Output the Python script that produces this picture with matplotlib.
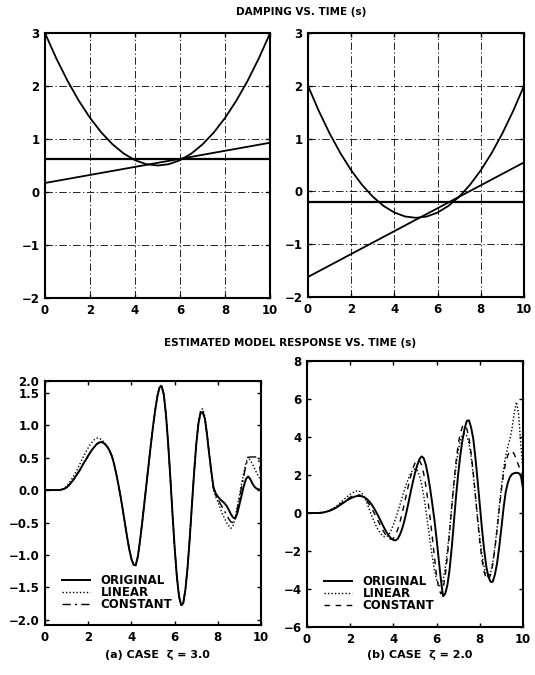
import matplotlib.pyplot as plt
import numpy as np

plt.rcParams['font.family'] = ['DejaVu Sans']
plt.rcParams['font.weight'] = 'bold'

# damping vs time (0.5 s steps)
damp_t = [0.0, 0.5, 1.0, 1.5, 2.0, 2.5, 3.0, 3.5, 4.0, 4.5, 5.0,
          5.5, 6.0, 6.5, 7.0, 7.5, 8.0, 8.5, 9.0, 9.5, 10.0]
damp_a_orig = [3.0, 2.525, 2.1, 1.725, 1.4, 1.125, 0.9, 0.725, 0.6, 0.525, 0.5,
               0.525, 0.6, 0.725, 0.9, 1.125, 1.4, 1.725, 2.1, 2.525, 3.0]
damp_a_lin = [0.17, 0.93]
damp_a_const = 0.63
damp_b_orig = [2.0, 1.525, 1.1, 0.725, 0.4, 0.125, -0.1, -0.275, -0.4, -0.475, -0.5,
               -0.475, -0.4, -0.275, -0.1, 0.125, 0.4, 0.725, 1.1, 1.525, 2.0]
damp_b_lin = [-1.62, 0.55]
damp_b_const = -0.2

# estimated model response, 0.1 s steps from 0 to 10
resp_t = [round(0.1 * i, 1) for i in range(101)]

# case (a), zeta = 3.0
resp_a_orig = [0, 0, 0, 0, 0, 0, 0, 0, 0.01, 0.02,
               0.04, 0.07, 0.11, 0.15, 0.2, 0.25, 0.3, 0.36, 0.42, 0.47,
               0.53, 0.58, 0.63, 0.67, 0.71, 0.73, 0.74, 0.73, 0.7, 0.66,
               0.6, 0.52, 0.4, 0.25, 0.08, -0.1, -0.3, -0.51, -0.72, -0.91,
               -1.06, -1.15, -1.16, -1.02, -0.78, -0.5, -0.2, 0.1, 0.4, 0.7,
               0.98, 1.23, 1.44, 1.58, 1.6, 1.47, 1.16, 0.72, 0.2, -0.36,
               -0.88, -1.32, -1.63, -1.77, -1.74, -1.53, -1.19, -0.74, -0.23, 0.26,
               0.7, 1.02, 1.19, 1.2, 1.1, 0.85, 0.55, 0.28, 0.04, -0.05,
               -0.1, -0.14, -0.17, -0.2, -0.24, -0.3, -0.37, -0.42, -0.44, -0.36,
               -0.22, -0.08, 0.06, 0.17, 0.21, 0.17, 0.1, 0.05, 0.02, 0.01,
               0.0]
resp_a_lin = [0, 0, 0, 0, 0, 0, 0, 0, 0.02, 0.03,
              0.06, 0.1, 0.15, 0.2, 0.26, 0.32, 0.39, 0.46, 0.53, 0.59,
              0.65, 0.7, 0.75, 0.78, 0.8, 0.8, 0.78, 0.75, 0.71, 0.66,
              0.6, 0.52, 0.4, 0.25, 0.08, -0.1, -0.3, -0.51, -0.72, -0.91,
              -1.06, -1.15, -1.16, -1.02, -0.78, -0.5, -0.2, 0.1, 0.4, 0.7,
              0.98, 1.24, 1.46, 1.6, 1.62, 1.48, 1.16, 0.72, 0.2, -0.36,
              -0.88, -1.33, -1.65, -1.79, -1.76, -1.54, -1.19, -0.73, -0.22, 0.28,
              0.72, 1.05, 1.23, 1.25, 1.14, 0.88, 0.57, 0.28, 0.0, -0.1,
              -0.18, -0.27, -0.36, -0.43, -0.5, -0.55, -0.59, -0.55, -0.42, -0.25,
              -0.08, 0.1, 0.27, 0.42, 0.51, 0.46, 0.4, 0.33, 0.26, 0.2,
              0.15]
resp_a_const = [0, 0, 0, 0, 0, 0, 0, 0, 0.01, 0.02,
                0.04, 0.07, 0.11, 0.15, 0.2, 0.25, 0.3, 0.36, 0.42, 0.47,
                0.53, 0.58, 0.63, 0.67, 0.71, 0.73, 0.74, 0.73, 0.7, 0.66,
                0.6, 0.52, 0.4, 0.25, 0.08, -0.1, -0.3, -0.51, -0.72, -0.91,
                -1.06, -1.15, -1.16, -1.02, -0.78, -0.5, -0.2, 0.1, 0.4, 0.7,
                0.98, 1.23, 1.44, 1.58, 1.6, 1.47, 1.16, 0.72, 0.2, -0.36,
                -0.88, -1.32, -1.63, -1.77, -1.74, -1.53, -1.19, -0.74, -0.23, 0.26,
                0.7, 1.02, 1.19, 1.2, 1.1, 0.85, 0.55, 0.28, 0.02, -0.08,
                -0.14, -0.2, -0.26, -0.32, -0.38, -0.44, -0.49, -0.5, -0.45, -0.3,
                -0.13, 0.05, 0.22, 0.38, 0.5, 0.51, 0.51, 0.51, 0.51, 0.45,
                0.2]

# case (b), zeta = 2.0
resp_b_orig = [0, 0, 0, 0, 0, 0, 0.01, 0.02, 0.04, 0.07,
               0.1, 0.14, 0.19, 0.25, 0.32, 0.39, 0.47, 0.55, 0.63, 0.7,
               0.76, 0.81, 0.86, 0.89, 0.9, 0.89, 0.86, 0.8, 0.71, 0.59,
               0.44, 0.26, 0.06, -0.16, -0.39, -0.62, -0.84, -1.04, -1.21, -1.34,
               -1.42, -1.44, -1.36, -1.15, -0.85, -0.45, 0.02, 0.55, 1.1, 1.62,
               2.1, 2.5, 2.82, 2.98, 2.9, 2.55, 2.0, 1.3, 0.5, -0.35,
               -1.35, -2.45, -3.5, -4.38, -4.25, -3.8, -3.0, -1.85, -0.5, 0.85,
               2.05, 3.05, 3.85, 4.45, 4.85, 4.88, 4.5, 3.9, 2.9, 1.7,
               0.45, -0.8, -1.9, -2.8, -3.35, -3.62, -3.62, -3.25, -2.65, -1.8,
               -0.8, 0.25, 1.1, 1.6, 1.9, 2.05, 2.1, 2.12, 2.1, 2.0,
               1.3]
resp_b_lin = [0, 0, 0, 0, 0, 0, 0.01, 0.03, 0.05, 0.09,
              0.13, 0.18, 0.24, 0.31, 0.4, 0.5, 0.6, 0.7, 0.8, 0.9,
              0.98, 1.06, 1.12, 1.16, 1.17, 1.1, 0.95, 0.73, 0.45, 0.15,
              -0.15, -0.43, -0.68, -0.9, -1.07, -1.19, -1.25, -1.24, -1.12, -0.9,
              -0.62, -0.3, 0.05, 0.42, 0.8, 1.17, 1.52, 1.83, 2.08, 2.25,
              2.32, 2.25, 2.0, 1.55, 0.95, 0.2, -0.65, -1.5, -2.3, -3.0,
              -3.5, -3.8, -3.85, -3.55, -2.9, -2.0, -0.9, 0.3, 1.45, 2.45,
              3.25, 3.8, 4.1, 4.18, 4.05, 3.65, 2.95, 2.0, 0.9, -0.25,
              -1.3, -2.2, -2.85, -3.25, -3.35, -3.15, -2.6, -1.8, -0.8, 0.3,
              1.35, 2.3, 3.0, 3.5, 3.9, 4.5, 5.3, 5.85, 5.2, 3.6,
              2.2]
resp_b_const = [0, 0, 0, 0, 0, 0, 0.01, 0.02, 0.045, 0.08,
                0.11, 0.16, 0.21, 0.28, 0.35, 0.43, 0.52, 0.6, 0.68, 0.76,
                0.83, 0.89, 0.93, 0.96, 0.96, 0.92, 0.85, 0.74, 0.6, 0.43,
                0.23, 0.02, -0.2, -0.43, -0.66, -0.88, -1.07, -1.23, -1.34, -1.38,
                -1.33, -1.15, -0.87, -0.5, -0.05, 0.45, 0.97, 1.47, 1.93, 2.33,
                2.63, 2.8, 2.78, 2.55, 2.1, 1.45, 0.65, -0.25, -1.25, -2.3,
                -3.3, -4.0, -4.25, -4.0, -3.3, -2.3, -1.05, 0.3, 1.6, 2.7,
                3.6, 4.2, 4.55, 4.65, 4.45, 3.95, 3.15, 2.1, 0.9, -0.35,
                -1.5, -2.45, -3.1, -3.45, -3.5, -3.25, -2.7, -1.9, -0.9, 0.2,
                1.2, 2.05, 2.65, 3.05, 3.25, 3.25, 3.1, 2.8, 2.5, 2.2,
                2.0]

labels = ['ORIGINAL', 'LINEAR', 'CONSTANT']
x_ticks = [0, 2, 4, 6, 8, 10]

fig = plt.figure(figsize=(5.35, 6.75), dpi=100)
ax1 = fig.add_axes([0.084, 0.5585, 0.421, 0.3926])
ax2 = fig.add_axes([0.5757, 0.56, 0.4037, 0.391])
ax3 = fig.add_axes([0.084, 0.074, 0.404, 0.3615])
ax4 = fig.add_axes([0.5738, 0.0711, 0.4037, 0.394])

grid_style = dict(color='black', linewidth=0.6, linestyle=(0, (9, 3, 1.5, 3)))


def style_axes(ax):
    for s in ax.spines.values():
        s.set_linewidth(1.5)
    ax.tick_params(direction='in', top=True, right=True, length=3, width=1,
                   labelsize=8.5, pad=4)
    ax.set_xlim(0, 10)
    ax.set_xticks(x_ticks)
    for lab in ax.get_xticklabels() + ax.get_yticklabels():
        lab.set_fontweight('bold')


# top panels: damping
for ax, orig, lin, const in [(ax1, damp_a_orig, damp_a_lin, damp_a_const),
                             (ax2, damp_b_orig, damp_b_lin, damp_b_const)]:
    ax.plot(damp_t, orig, color='black', lw=1.3)
    ax.plot([0, 10], lin, color='black', lw=1.3)
    ax.axhline(const, color='black', lw=1.6)
    ax.set_ylim(-2, 3)
    ax.set_yticks([-2, -1, 0, 1, 2, 3])
    ax.grid(True, **grid_style)
    style_axes(ax)

# bottom panels: response
ax3.plot(resp_t, resp_a_orig, color='black', lw=1.4, label=labels[0])
ax3.plot(resp_t, resp_a_lin, color='black', lw=1.0, linestyle=(0, (1, 1.5)), label=labels[1])
ax3.plot(resp_t, resp_a_const, color='black', lw=1.0, linestyle=(0, (6, 3, 1.5, 3)), label=labels[2])
ax3.set_ylim(-2.08, 1.68)
ax3.set_yticks([-2.0, -1.5, -1.0, -0.5, 0.0, 0.5, 1.0, 1.5, 1.68])
ax3.set_yticklabels(['\u22122.0', '\u22121.5', '\u22121.0', '\u22120.5', '0.0', '0.5', '1.0', '1.5', '2.0'])
style_axes(ax3)

ax4.plot(resp_t, resp_b_orig, color='black', lw=1.4, label=labels[0])
ax4.plot(resp_t, resp_b_lin, color='black', lw=1.0, linestyle=(0, (1, 1.5)), label=labels[1])
ax4.plot(resp_t, resp_b_const, color='black', lw=1.0, linestyle=(0, (4, 4)), label=labels[2])
ax4.set_ylim(-6, 8)
ax4.set_yticks([-6, -4, -2, 0, 2, 4, 6, 8])
style_axes(ax4)

for ax, y0 in ((ax3, 0.023), (ax4, 0.026)):
    ax.legend(loc='lower left', bbox_to_anchor=(0.04, y0), frameon=False,
              handlelength=2.4, labelspacing=-0.08, borderaxespad=0.3,
              handletextpad=0.9, prop={'weight': 'bold', 'size': 8.5})

fig.text(0.563, 0.982, 'DAMPING VS. TIME (s)', ha='center', va='center',
         fontsize=7.5, fontweight='bold')
fig.text(0.543, 0.492, 'ESTIMATED MODEL RESPONSE VS. TIME (s)', ha='center', va='center',
         fontsize=7.5, fontweight='bold')
fig.text(0.294, 0.03, '(a) CASE  \u03b6 = 3.0', ha='center', va='center',
         fontsize=8, fontweight='bold')
fig.text(0.785, 0.03, '(b) CASE  \u03b6 = 2.0', ha='center', va='center',
         fontsize=8, fontweight='bold')

fig.savefig('out.png', dpi=100)
